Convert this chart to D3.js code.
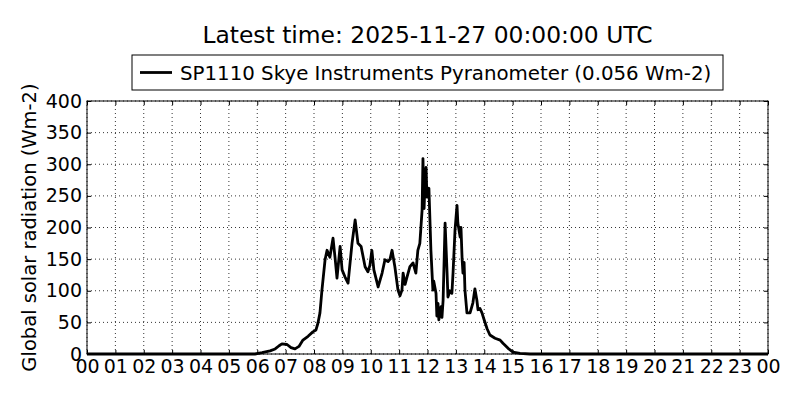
<!DOCTYPE html>
<html>
<head>
<meta charset="utf-8">
<script src="https://cdn.jsdelivr.net/npm/d3@7"></script>
<style>
  body { margin: 0; background: #fff; }
  svg { font-family: "DejaVu Sans", sans-serif; }
</style>
</head>
<body>
<svg id="chart" width="800" height="400"></svg>
<script>
// hours since midnight (UTC) and radiation values
const hours = [0, 5.92, 6.17, 6.45, 6.63, 6.77, 6.87, 7.05, 7.19, 7.33, 7.47, 7.61, 7.79, 7.96, 8.07, 8.14,
  8.21, 8.28, 8.39, 8.46, 8.56, 8.67, 8.74, 8.81, 8.92, 8.99, 9.09, 9.20, 9.34, 9.45, 9.55, 9.66,
  9.80, 9.90, 9.97, 10.04, 10.11, 10.26, 10.40, 10.50, 10.61, 10.68, 10.75, 10.85, 10.96, 11.03,
  11.10, 11.14, 11.21, 11.28, 11.38, 11.49, 11.59, 11.66, 11.73, 11.81, 11.84, 11.88, 11.91, 11.95,
  11.98, 12.05, 12.12, 12.19, 12.22, 12.30, 12.33, 12.37, 12.40, 12.48, 12.51, 12.55, 12.62, 12.69,
  12.72, 12.79, 12.86, 12.90, 12.97, 13.04, 13.07, 13.15, 13.18, 13.22, 13.25, 13.29, 13.32, 13.39,
  13.50, 13.60, 13.67, 13.74, 13.78, 13.85, 13.92, 13.99, 14.10, 14.20, 14.38, 14.56, 14.66, 14.84,
  15.01, 15.26, 15.61, 24];
const radiation = [0, 0, 2, 5, 8, 13, 16, 15, 10, 8, 12, 22, 28, 35, 38, 49,
  65, 101, 149, 164, 153, 183, 153, 120, 170, 133, 122, 112, 175, 212, 175, 170,
  138, 130, 140, 164, 133, 106, 128, 149, 146, 150, 164, 138, 101, 92,
  101, 128, 110, 122, 138, 144, 128, 164, 175, 228, 309, 230, 270, 295,
  248, 262, 164, 101, 115, 96, 60, 80, 54, 75, 58, 85, 207, 128,
  90, 100, 96, 128, 196, 235, 207, 185, 200, 150, 128, 145, 101, 65,
  65, 81, 103, 85, 70, 72, 65, 55, 40, 30, 25, 22, 17, 9,
  3, 1, 0, 0];

const hourTicks = d3.range(0, 25);
const hourLabels = ["00", "01", "02", "03", "04", "05", "06", "07", "08", "09", "10", "11", "12",
  "13", "14", "15", "16", "17", "18", "19", "20", "21", "22", "23", "00"];
const yTicks = [0, 50, 100, 150, 200, 250, 300, 350, 400];

const titleText = "Latest time: 2025-11-27 00:00:00 UTC";
const seriesName = "SP1110 Skye Instruments Pyranometer (0.056 Wm-2)";
const yLabel = "Global solar radiation (Wm-2)";

const svg = d3.select('#chart');
const margin = { top: 101, right: 32, bottom: 46, left: 87 };
const width = 800 - margin.left - margin.right;
const height = 400 - margin.top - margin.bottom;

const x = d3.scaleLinear().domain([0, 24]).range([0, width]);
const y = d3.scaleLinear().domain([0, 400]).range([height, 0]);

const g = svg.append('g').attr('transform', `translate(${margin.left},${margin.top})`);

// dotted grid
g.append('g')
    .attr('class', 'grid')
    .selectAll('line.gx')
    .data(hourTicks)
    .enter()
    .append('line')
    .attr('x1', d => x(d)).attr('x2', d => x(d))
    .attr('y1', 0).attr('y2', height);
g.append('g')
    .attr('class', 'grid')
    .selectAll('line.gy')
    .data(yTicks)
    .enter()
    .append('line')
    .attr('x1', 0).attr('x2', width)
    .attr('y1', d => y(d)).attr('y2', d => y(d));
g.selectAll('.grid line')
    .attr('stroke', '#000')
    .attr('stroke-width', 0.8)
    .attr('stroke-dasharray', '1,3');

// the series
const points = hours.map((h, i) => [h, radiation[i]]);
const line = d3.line().x(d => x(d[0])).y(d => y(d[1]));
g.append('path')
    .datum(points)
    .attr('fill', 'none')
    .attr('stroke', '#000')
    .attr('stroke-width', 2.8)
    .attr('stroke-linejoin', 'round')
    .attr('d', line);

// axes, ticks pointing inwards on all sides
const xAxis = d3.axisBottom(x)
    .tickValues(hourTicks)
    .tickFormat((d, i) => hourLabels[i])
    .tickSizeInner(-4).tickSizeOuter(0).tickPadding(6);
const xAxisTop = d3.axisTop(x).tickValues(hourTicks).tickFormat('').tickSizeInner(-4).tickSizeOuter(0);
const yAxis = d3.axisLeft(y).tickValues(yTicks).tickSizeInner(-4).tickSizeOuter(0).tickPadding(5);
const yAxisRight = d3.axisRight(y).tickValues(yTicks).tickFormat('').tickSizeInner(-4).tickSizeOuter(0);

g.append('g').attr('transform', `translate(0,${height})`).call(xAxis);
g.append('g').call(xAxisTop);
g.append('g').call(yAxis);
g.append('g').attr('transform', `translate(${width},0)`).call(yAxisRight);

g.selectAll('.domain').remove();
g.selectAll('.tick line').attr('stroke', '#000');
g.selectAll('.tick text')
    .attr('fill', '#000')
    .style('font-size', '19px')
    .style('font-family', '"DejaVu Sans", sans-serif');

// frame
g.append('rect')
    .attr('width', width).attr('height', height)
    .attr('fill', 'none')
    .attr('stroke', '#000')
    .attr('stroke-width', 1);

// title
svg.append('text')
    .attr('x', margin.left + width / 2)
    .attr('y', 43)
    .attr('text-anchor', 'middle')
    .style('font-size', '23.4px')
    .text(titleText);

// y label
svg.append('text')
    .attr('transform', `translate(36,${margin.top + height / 2}) rotate(-90)`)
    .attr('text-anchor', 'middle')
    .style('font-size', '19.5px')
    .text(yLabel);

// legend
const legend = svg.append('g').attr('transform', 'translate(132,55)');
legend.append('rect')
    .attr('width', 591).attr('height', 35)
    .attr('fill', '#fff')
    .attr('stroke', '#000')
    .attr('stroke-width', 1);
legend.append('line')
    .attr('x1', 8).attr('x2', 40)
    .attr('y1', 17.5).attr('y2', 17.5)
    .attr('stroke', '#000')
    .attr('stroke-width', 2.8);
legend.append('text')
    .attr('x', 48).attr('y', 24.5)
    .style('font-size', '19.8px')
    .text(seriesName);
</script>
</body>
</html>
